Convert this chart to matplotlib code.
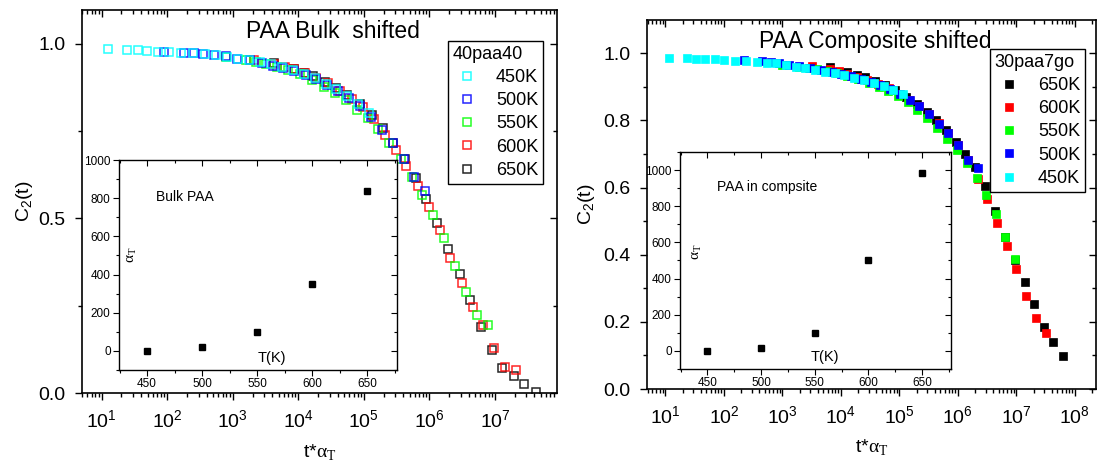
import matplotlib

matplotlib.use("Agg")

import matplotlib.pyplot as plt
from matplotlib.ticker import LogLocator, MultipleLocator, NullFormatter

plt.rcParams["font.family"] = ["Liberation Sans", "DejaVu Sans"]
plt.rcParams["mathtext.fontset"] = "custom"
plt.rcParams["mathtext.rm"] = "Liberation Sans"
plt.rcParams["mathtext.it"] = "Liberation Sans:italic"
plt.rcParams["mathtext.sf"] = "Liberation Serif"

# ---- bulk PAA, log10(t*aT) and C2(t) per temperature ----
bulk_logt_450 = [1.09, 1.39, 1.55, 1.69, 1.86, 2.03, 2.21, 2.40, 2.58, 2.75, 2.91, 3.08,
                 3.25, 3.41, 3.58, 3.75, 3.92, 4.08, 4.25, 4.42, 4.58, 4.75, 4.91, 5.08]
bulk_c2_450 = [0.985, 0.982, 0.981, 0.980, 0.978, 0.976, 0.974, 0.973, 0.971, 0.967, 0.963, 0.958,
               0.955, 0.949, 0.943, 0.935, 0.925, 0.914, 0.903, 0.885, 0.870, 0.851, 0.828, 0.803]
bulk_logt_500 = [1.95, 2.25, 2.41, 2.55, 2.72, 2.89, 3.07, 3.26, 3.44, 3.61, 3.77, 3.94,
                 4.11, 4.27, 4.44, 4.61, 4.78, 4.94, 5.11, 5.28, 5.44, 5.61, 5.77, 5.94]
bulk_c2_500 = [0.977, 0.975, 0.973, 0.971, 0.968, 0.964, 0.958, 0.953, 0.944, 0.937, 0.930, 0.921,
               0.910, 0.899, 0.882, 0.864, 0.845, 0.823, 0.790, 0.752, 0.716, 0.670, 0.618, 0.580]
bulk_logt_550 = [2.90, 3.20, 3.36, 3.50, 3.67, 3.84, 4.02, 4.21, 4.39, 4.56, 4.72, 4.89,
                 5.06, 5.22, 5.39, 5.56, 5.73, 5.89, 6.06, 6.23, 6.39, 6.56, 6.72, 6.89]
bulk_c2_550 = [0.962, 0.955, 0.949, 0.943, 0.935, 0.926, 0.914, 0.897, 0.876, 0.858, 0.838, 0.812,
               0.787, 0.757, 0.715, 0.670, 0.620, 0.567, 0.510, 0.443, 0.365, 0.288, 0.223, 0.195]
bulk_logt_600 = [3.33, 3.63, 3.79, 3.93, 4.10, 4.27, 4.45, 4.64, 4.82, 4.99, 5.15, 5.32,
                 5.49, 5.65, 5.82, 5.99, 6.16, 6.32, 6.49, 6.66, 6.82, 6.99, 7.15, 7.32]
bulk_c2_600 = [0.955, 0.943, 0.935, 0.927, 0.916, 0.903, 0.887, 0.866, 0.843, 0.818, 0.785, 0.739,
               0.697, 0.650, 0.593, 0.532, 0.467, 0.386, 0.315, 0.246, 0.195, 0.128, 0.075, 0.066]
bulk_logt_650 = [3.63, 3.93, 4.09, 4.23, 4.40, 4.57, 4.75, 4.94, 5.12, 5.29, 5.45, 5.62,
                 5.79, 5.95, 6.12, 6.29, 6.46, 6.62, 6.78, 6.95, 7.11, 7.29, 7.45, 7.62]
bulk_c2_650 = [0.944, 0.928, 0.917, 0.907, 0.892, 0.875, 0.854, 0.828, 0.795, 0.758, 0.716, 0.670,
               0.615, 0.557, 0.488, 0.413, 0.340, 0.266, 0.190, 0.123, 0.073, 0.049, 0.025, 0.002]

# ---- PAA in composite ----
comp_logt_450 = [1.07, 1.37, 1.53, 1.67, 1.84, 2.01, 2.19, 2.38, 2.56, 2.73, 2.89, 3.06,
                 3.23, 3.39, 3.56, 3.73, 3.90, 4.06, 4.23, 4.40, 4.56, 4.73, 4.89, 5.06]
comp_c2_450 = [0.986, 0.985, 0.984, 0.983, 0.982, 0.981, 0.978, 0.976, 0.974, 0.972, 0.970, 0.965,
               0.960, 0.956, 0.951, 0.945, 0.940, 0.934, 0.927, 0.920, 0.912, 0.902, 0.891, 0.878]
comp_logt_500 = [2.35, 2.65, 2.81, 2.95, 3.12, 3.29, 3.47, 3.66, 3.84, 4.01, 4.17, 4.34,
                 4.51, 4.67, 4.84, 5.01, 5.18, 5.34, 5.51, 5.68, 5.84, 6.01, 6.17, 6.34]
comp_c2_500 = [0.980, 0.976, 0.973, 0.970, 0.966, 0.962, 0.957, 0.951, 0.945, 0.938, 0.931, 0.924,
               0.915, 0.905, 0.893, 0.880, 0.862, 0.843, 0.818, 0.790, 0.762, 0.726, 0.682, 0.657]
comp_logt_550 = [2.99, 3.29, 3.45, 3.59, 3.76, 3.93, 4.11, 4.30, 4.48, 4.65, 4.81, 4.98,
                 5.15, 5.31, 5.48, 5.65, 5.82, 5.98, 6.15, 6.32, 6.48, 6.65, 6.81, 6.98]
comp_c2_550 = [0.966, 0.960, 0.956, 0.952, 0.946, 0.940, 0.932, 0.922, 0.912, 0.900, 0.888, 0.873,
               0.855, 0.832, 0.808, 0.778, 0.745, 0.713, 0.673, 0.628, 0.578, 0.520, 0.454, 0.387]
comp_logt_600 = [3.51, 3.81, 3.97, 4.11, 4.28, 4.45, 4.63, 4.82, 5.00, 5.17, 5.33, 5.50,
                 5.67, 5.83, 6.00, 6.17, 6.34, 6.50, 6.67, 6.84, 7.00, 7.17, 7.33, 7.50]
comp_c2_600 = [0.963, 0.953, 0.946, 0.939, 0.930, 0.920, 0.908, 0.895, 0.880, 0.862, 0.843, 0.820,
               0.792, 0.762, 0.727, 0.682, 0.625, 0.565, 0.495, 0.426, 0.357, 0.277, 0.211, 0.168]
comp_logt_650 = [3.81, 4.11, 4.27, 4.41, 4.58, 4.75, 4.93, 5.12, 5.30, 5.47, 5.63, 5.80,
                 5.97, 6.13, 6.30, 6.47, 6.64, 6.80, 6.97, 7.14, 7.30, 7.47, 7.63, 7.80]
comp_c2_650 = [0.958, 0.944, 0.936, 0.928, 0.918, 0.905, 0.890, 0.870, 0.849, 0.826, 0.801, 0.771,
               0.737, 0.700, 0.660, 0.605, 0.530, 0.452, 0.384, 0.320, 0.253, 0.186, 0.139, 0.099]

# ---- shift factors (insets) ----
shift_temps = [450, 500, 550, 600, 650]
bulk_alpha = [0, 20, 100, 350, 840]
comp_alpha = [0, 17, 100, 500, 985]

temp_labels = ["450K", "500K", "550K", "600K", "650K"]
temp_colors = ["#00ffff", "#0000ff", "#00ff00", "#ff0000", "#000000"]

W, H = 1097, 473


def fig_rect(x0, y0, x1, y1):
    # pixel box (top-left origin) -> figure fraction rect
    return [x0 / W, 1 - y1 / H, (x1 - x0) / W, (y1 - y0) / H]


def add_inner_ticks(fig, ax, rect, major=5, minor=3, width=1):
    # top/right ticks point inward while bottom/left point outward
    over = fig.add_axes(rect, sharex=ax, sharey=ax, frameon=False)
    over.patch.set_visible(False)
    over.tick_params(which="both", direction="in", bottom=False, left=False,
                     top=True, right=True, labelbottom=False, labelleft=False,
                     labeltop=False, labelright=False, width=width)
    over.tick_params(which="major", length=major)
    over.tick_params(which="minor", length=minor)
    return over


def style_main(ax, xlim, ylim, decades, ymajor, yminor):
    ax.set_xscale("log")
    ax.set_xlim(*xlim)
    ax.set_ylim(*ylim)
    # only decades inside the view, so no hidden labels sit off the figure
    ax.set_xticks([10.0 ** k for k in decades])
    ax.xaxis.set_minor_locator(LogLocator(base=10, subs=range(2, 10), numticks=20))
    ax.xaxis.set_minor_formatter(NullFormatter())
    ax.yaxis.set_major_locator(MultipleLocator(ymajor))
    ax.yaxis.set_minor_locator(MultipleLocator(yminor))
    ax.yaxis.set_major_formatter(plt.FormatStrFormatter("%.1f"))
    ax.tick_params(which="both", direction="out", labelsize=14, width=1)
    ax.tick_params(which="major", length=5, pad=7)
    ax.tick_params(which="minor", length=3)
    for sp in ax.spines.values():
        sp.set_linewidth(1.2)


def style_inset(fig, ax, rect, temps, alpha, note, note_xy, alpha_xy, tk_xy, ylim):
    ax.plot(temps, alpha, "s", color="black", markersize=5, linestyle="none")
    ax.set_xlim(424.5, 677)
    ax.set_ylim(*ylim)
    ax.set_xticks([450, 500, 550, 600, 650])
    ax.xaxis.set_minor_locator(MultipleLocator(25))
    ax.set_yticks([0, 200, 400, 600, 800, 1000])
    ax.yaxis.set_minor_locator(MultipleLocator(100))
    ax.tick_params(which="both", direction="out", labelsize=8.5, width=0.8, pad=2)
    ax.tick_params(which="major", length=4)
    ax.tick_params(which="minor", length=2)
    for sp in ax.spines.values():
        sp.set_linewidth(1)
    ax.text(*note_xy, note, transform=ax.transAxes, fontsize=10, va="center", ha="left")
    ax.text(*tk_xy, "T(K)", transform=ax.transAxes, fontsize=10.5, va="center", ha="center")
    ax.text(*alpha_xy, r"$\mathsf{\alpha}_\mathsf{T}$", transform=ax.transAxes, fontsize=11,
            rotation=90, va="center", ha="center")
    add_inner_ticks(fig, ax, rect, major=4, minor=2, width=0.8)


def add_legend(ax, handles, title, anchor):
    leg = ax.legend(handles=handles, title=title, loc="upper right",
                    bbox_to_anchor=anchor, bbox_transform=fig.transFigure,
                    borderaxespad=0, fontsize=13, title_fontsize=13, alignment="left",
                    frameon=True, fancybox=False, edgecolor="black", framealpha=1,
                    handlelength=1.6, handletextpad=0.8, labelspacing=0.35,
                    borderpad=0.25)
    leg.get_frame().set_linewidth(1)
    leg.set_zorder(5)
    return leg


fig = plt.figure(figsize=(W / 100, H / 100), dpi=100)

# ================= left: bulk =================
rect_l = fig_rect(82, 10, 557, 393)
ax_l = fig.add_axes(rect_l)
bulk_series = [
    (bulk_logt_450, bulk_c2_450),
    (bulk_logt_500, bulk_c2_500),
    (bulk_logt_550, bulk_c2_550),
    (bulk_logt_600, bulk_c2_600),
    (bulk_logt_650, bulk_c2_650),
]
bulk_handles = []
for i, ((logt, c2), lab, col) in enumerate(zip(bulk_series, temp_labels, temp_colors)):
    (h,) = ax_l.plot([10 ** v for v in logt], c2, "s", linestyle="none", markersize=6,
                     markerfacecolor="none", markeredgecolor=col, markeredgewidth=1.1,
                     alpha=0.85, label=lab, zorder=10 - i)
    bulk_handles.append(h)
style_main(ax_l, (5.0, 8.85e7), (0, 1.097), range(1, 8), 0.5, 0.25)
add_inner_ticks(fig, ax_l, rect_l)
ax_l.text(0.528, 0.943, "PAA Bulk  shifted", transform=ax_l.transAxes,
          fontsize=16.5, ha="center", va="center")
ax_l.set_ylabel(r"C$_2$(t)", fontsize=14)
ax_l.yaxis.set_label_coords(-0.122, 0.5)
ax_l.yaxis.label.set_verticalalignment("center")
ax_l.set_xlabel(r"t*$\mathsf{\alpha}_\mathsf{T}$", fontsize=14)
ax_l.xaxis.set_label_coords(0.5, -0.154)
ax_l.xaxis.label.set_verticalalignment("center")
add_legend(ax_l, bulk_handles, "40paa40", (543 / W, 1 - 41 / H))

rect_li = fig_rect(119, 160, 397, 370)
ax_li = fig.add_axes(rect_li)
style_inset(fig, ax_li, rect_li, shift_temps, bulk_alpha, "Bulk PAA",
            (0.133, 0.824), (0.047, 0.55), (0.55, 0.057), (-100, 1000))

# ================= right: composite =================
rect_r = fig_rect(647, 20, 1096, 389)
ax_r = fig.add_axes(rect_r)
comp_series = [
    (comp_logt_650, comp_c2_650),
    (comp_logt_600, comp_c2_600),
    (comp_logt_550, comp_c2_550),
    (comp_logt_500, comp_c2_500),
    (comp_logt_450, comp_c2_450),
]
comp_handles = []
for (logt, c2), lab, col in zip(comp_series, temp_labels[::-1], temp_colors[::-1]):
    (h,) = ax_r.plot([10 ** v for v in logt], c2, "s", linestyle="none", markersize=5.6,
                     color=col, markeredgewidth=0.5, label=lab)
    comp_handles.append(h)
style_main(ax_r, (4.85, 2.3e8), (0, 1.099), range(1, 9), 0.2, 0.1)
add_inner_ticks(fig, ax_r, rect_r)
ax_r.text(0.508, 0.943, "PAA Composite shifted", transform=ax_r.transAxes,
          fontsize=16.5, ha="center", va="center")
ax_r.set_ylabel(r"C$_2$(t)", fontsize=14)
ax_r.yaxis.set_label_coords(-0.135, 0.5)
ax_r.yaxis.label.set_verticalalignment("center")
ax_r.set_xlabel(r"t*$\mathsf{\alpha}_\mathsf{T}$", fontsize=14)
ax_r.xaxis.set_label_coords(0.5, -0.157)
ax_r.xaxis.label.set_verticalalignment("center")
add_legend(ax_r, comp_handles, "30paa7go", (1085 / W, 1 - 49 / H))

rect_ri = fig_rect(680, 152, 951, 369)
ax_ri = fig.add_axes(rect_ri)
style_inset(fig, ax_ri, rect_ri, shift_temps, comp_alpha, "PAA in compsite",
            (0.137, 0.84), (0.063, 0.54), (0.535, 0.055), (-100, 1100))

fig.savefig("out.png", dpi=100)
